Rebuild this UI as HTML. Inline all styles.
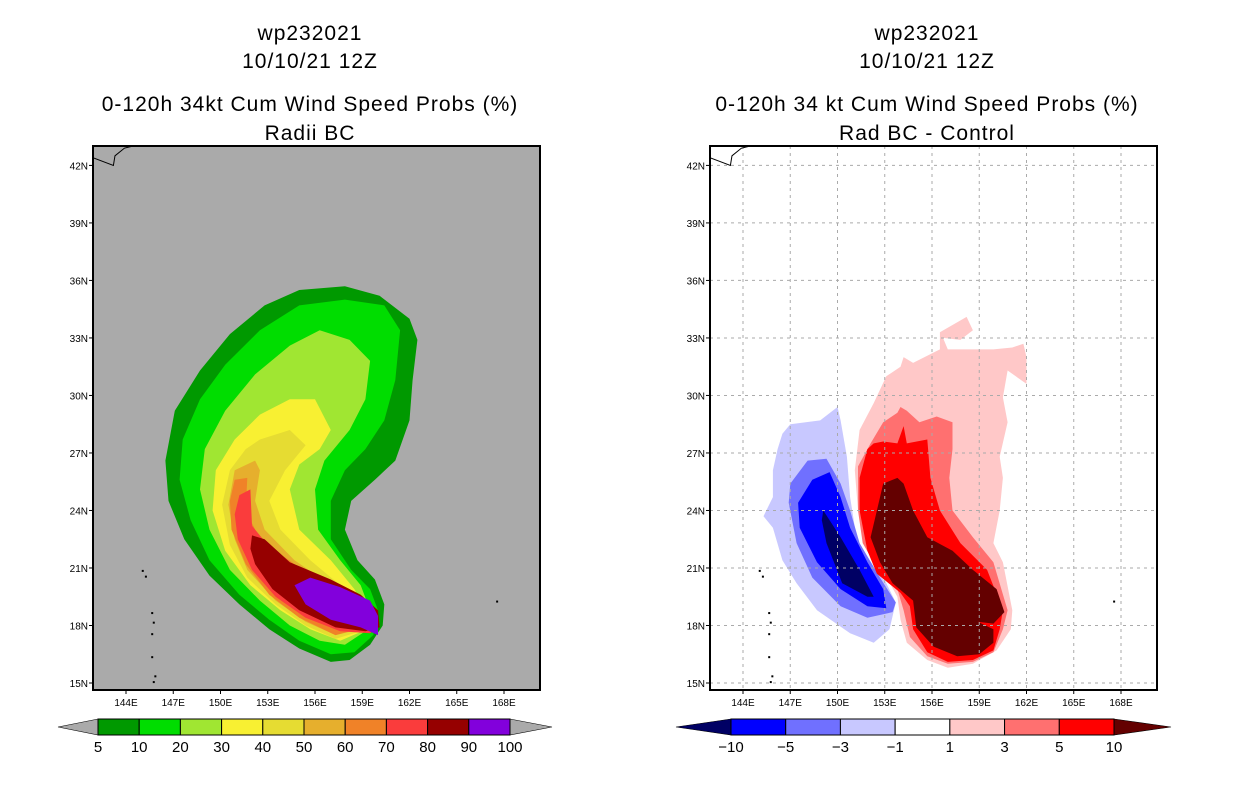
<!DOCTYPE html>
<html><head><meta charset="utf-8">
<style>
body{margin:0;background:#fff;}
svg{display:block;font-family:"Liberation Sans","DejaVu Sans",sans-serif;}
</style></head>
<body>
<svg id="c" width="1236" height="800" viewBox="0 0 1236 800"></svg>
<script>
// ---------- data ----------
const latTicks=[42,39,36,33,30,27,24,21,18,15];
const lonTicks=[144,147,150,153,156,159,162,165,168];
const probLevels=[5,10,20,30,40,50,60,70,80,90,100];
const probColors=["#009900","#00dd00","#a0e632","#f8f032","#e6dc32","#e6af2d","#f08228","#fa3c3c","#960000","#8200dc"];
const diffLevels=[-10,-5,-3,-1,1,3,5,10];
const diffColors=["#0000ff","#7070ff","#c8c8ff","#ffffff","#ffc8c8","#ff7070","#ff0000"];
const diffLow="#000064", diffHigh="#640000";
// probability contours (lon,lat)
const prob5=[[157.9,35.7],[160.1,35.2],[162.0,34.0],[162.5,32.9],[162.2,30.8],[162.0,28.7],[161.1,26.6],[159.8,25.6],[158.3,24.5],[157.9,23.0],[158.7,21.4],[159.8,20.4],[160.4,19.1],[160.3,18.0],[159.5,17.0],[158.2,16.2],[157.0,16.1],[155.0,16.8],[153.1,17.8],[151.2,19.1],[149.3,20.6],[147.7,22.5],[146.7,24.5],[146.5,26.6],[147.1,29.2],[148.7,31.3],[150.6,33.2],[152.8,34.7],[155.0,35.5]];
const prob10=[[157.9,35.0],[160.4,34.7],[161.4,33.4],[161.1,30.8],[160.4,28.7],[159.2,27.2],[157.9,26.1],[157.0,24.5],[157.0,22.5],[158.3,20.9],[159.5,19.9],[160.0,18.8],[159.7,17.5],[158.5,16.6],[157.0,16.5],[155.0,17.2],[153.1,18.3],[151.2,19.6],[149.3,21.4],[148.1,23.5],[147.4,25.6],[147.6,27.7],[148.7,29.8],[150.3,31.6],[152.5,33.4],[155.0,34.7]];
const prob20=[[156.3,33.4],[158.2,32.9],[159.5,31.8],[159.2,29.8],[158.2,28.2],[156.6,26.6],[156.0,25.1],[156.2,23.0],[157.6,21.4],[158.9,20.1],[159.5,18.8],[159.2,17.7],[157.9,17.0],[156.3,17.2],[154.4,18.0],[152.5,19.3],[150.6,20.9],[149.3,23.0],[148.7,25.1],[149.0,27.2],[150.3,29.2],[152.2,31.1],[154.4,32.6]];
const prob30=[[154.4,29.8],[156.0,29.8],[157.0,28.2],[156.3,27.2],[155.0,26.4],[154.4,25.1],[155.0,23.0],[157.0,21.4],[158.5,19.9],[159.4,18.5],[159.0,17.7],[157.6,17.2],[155.7,17.8],[153.8,18.8],[151.9,20.1],[150.3,21.9],[149.5,24.0],[149.7,26.1],[150.9,27.7],[152.5,29.0]];
const prob40=[[152.5,27.7],[154.4,28.2],[155.4,27.4],[154.1,26.1],[153.1,24.5],[153.8,23.0],[155.7,21.4],[157.9,19.9],[159.2,18.5],[158.9,17.7],[157.3,17.3],[155.4,18.0],[153.5,19.1],[151.7,20.5],[150.6,22.2],[150.1,24.3],[150.6,26.1],[151.6,27.2]];
const prob50=[[150.9,26.1],[152.2,26.6],[152.5,26.1],[152.2,24.5],[152.8,23.0],[154.7,21.4],[157.0,20.1],[158.9,18.8],[158.9,17.8],[157.3,17.5],[155.4,18.2],[153.5,19.3],[151.7,20.9],[150.9,22.5],[150.5,24.3]];
const prob60=[[150.9,25.6],[151.7,25.7],[151.6,24.0],[152.5,22.5],[154.7,21.2],[157.0,20.0],[158.7,18.7],[158.7,17.8],[157.3,17.5],[155.0,18.4],[153.1,19.6],[151.6,21.2],[150.7,23.0],[150.6,24.5]];
const prob70=[[151.2,24.8],[151.9,25.1],[152.0,23.2],[153.5,21.7],[155.7,20.6],[157.9,19.6],[159.6,18.7],[160.1,18.0],[159.5,17.6],[157.6,17.7],[155.4,18.4],[153.5,19.5],[152.0,20.9],[151.1,22.5],[150.9,23.8]];
const prob80=[[152.0,22.7],[152.8,22.5],[154.4,21.3],[157.0,20.4],[158.9,19.6],[160.0,18.8],[160.1,17.9],[159.2,17.7],[157.3,17.9],[155.0,18.8],[153.3,19.9],[152.2,21.2],[151.9,22.0]];
const prob90=[[154.7,20.1],[155.7,20.5],[157.6,20.0],[159.5,19.3],[160.0,18.5],[160.0,17.5],[158.9,17.9],[157.0,18.3],[155.4,19.1]];
// difference contours (lon,lat)
const diffNeg1=[[150.0,29.4],[148.9,28.7],[147.0,28.5],[146.5,28.0],[146.2,27.2],[145.9,26.1],[145.9,24.7],[145.3,23.7],[145.9,23.1],[146.5,21.4],[147.4,20.2],[148.7,18.8],[150.8,17.6],[152.3,17.1],[153.3,17.8],[153.7,19.2],[153.1,20.2],[151.9,21.4],[151.2,22.6],[150.8,24.7],[150.6,26.8],[150.2,28.7]];
const diffNeg3=[[148.1,26.6],[149.3,26.7],[150.2,25.4],[150.8,24.0],[151.4,22.3],[152.7,20.5],[153.7,19.2],[153.5,18.7],[151.9,18.4],[150.2,19.0],[148.4,20.5],[147.4,22.3],[146.9,24.4],[147.0,25.4]];
const diffNeg5=[[148.4,25.6],[149.5,26.0],[150.2,24.7],[150.8,23.1],[151.9,21.3],[152.9,19.9],[153.1,18.9],[151.9,19.0],[150.2,19.9],[148.7,21.3],[147.6,23.1],[147.5,24.4]];
const diffNeg10=[[149.1,24.0],[150.2,22.6],[151.4,20.9],[152.3,19.5],[151.9,19.5],[150.3,20.2],[149.3,22.3],[149.0,23.5]];
const diffPos1=[[158.2,34.1],[158.6,33.4],[157.8,32.9],[156.7,33.0],[157.0,32.4],[159.9,32.4],[161.1,32.5],[161.8,32.7],[162.0,32.0],[162.0,30.6],[160.8,31.3],[160.5,29.9],[160.8,28.6],[160.3,26.8],[160.5,25.7],[160.3,24.0],[159.9,22.3],[160.5,21.3],[161.1,18.8],[161.0,17.8],[160.1,16.7],[158.6,16.0],[157.0,15.8],[155.7,16.2],[154.4,17.1],[154.0,18.3],[153.8,19.5],[152.7,21.1],[151.9,21.9],[151.3,24.0],[151.1,26.1],[151.4,28.2],[152.3,29.6],[153.1,31.0],[154.0,31.5],[154.2,32.0],[154.8,31.7],[156.5,32.4],[156.5,33.3]];
const diffPos3=[[154.0,29.4],[154.4,29.2],[155.2,28.6],[156.3,28.9],[157.3,28.6],[157.3,27.2],[157.1,25.7],[157.3,24.0],[158.6,22.6],[159.9,21.3],[160.8,18.8],[160.5,17.8],[159.9,16.6],[158.6,16.1],[157.0,16.0],[155.7,16.4],[154.6,17.4],[154.2,18.8],[153.8,19.9],[152.3,21.3],[151.6,22.3],[151.3,24.0],[151.3,26.3],[152.1,27.5],[152.9,28.6],[153.8,29.1]];
const diffPos5=[[152.3,27.5],[152.9,27.6],[153.8,27.5],[154.2,28.4],[154.4,27.5],[155.7,27.7],[155.9,25.7],[156.5,24.0],[157.8,22.3],[159.5,20.9],[160.5,18.8],[160.3,17.8],[159.9,16.7],[158.6,16.2],[157.0,16.1],[155.7,16.6],[154.8,17.8],[154.6,19.0],[154.0,19.7],[152.5,20.7],[151.9,21.9],[151.4,24.0],[151.4,25.7],[151.9,27.2]];
const diffPos10=[[153.8,25.7],[154.2,25.4],[154.8,24.0],[155.7,22.6],[157.3,21.9],[158.6,20.9],[160.1,19.9],[160.6,18.7],[159.9,18.1],[158.9,18.2],[159.9,17.8],[159.9,17.1],[159.0,16.5],[157.6,16.4],[156.1,16.9],[155.0,17.9],[154.8,19.3],[153.5,20.2],[152.7,21.3],[152.1,22.6],[152.5,24.0],[152.9,25.4]];
const coast=[[141.9,42.4],[143.2,42.0],[143.3,42.5],[143.9,42.9],[144.4,43.0]];
const islands=[[145.0,20.9],[145.2,20.6],[145.6,18.7],[145.7,18.2],[145.6,17.6],[145.6,16.4],[145.8,15.4],[145.7,15.1],[167.5,19.3]];

// ---------- drawing ----------
const svg=document.getElementById('c');
const NS="http://www.w3.org/2000/svg";
function mk(tag,attrs,parent){const e=document.createElementNS(NS,tag);for(const k in attrs)e.setAttribute(k,attrs[k]);(parent||svg).appendChild(e);return e;}
function txt(s,x,y,size,anchor,parent){const t=mk('text',{x:x,y:y,'font-size':size,'text-anchor':anchor||'middle',fill:'#000'},parent);t.textContent=s;return t;}

function panel(x0,y0,x1,y1,lon0,bg,grid,name){
  const X=lon=>lon0+(lon-144)*15.75;
  const Y=lat=>683-(lat-15)*19.17;
  const g=mk('g',{});
  
  
  mk('rect',{x:x0,y:y0,width:x1-x0,height:y1-y0,fill:bg},g);
  const clipId='clip'+name;
  const cp=mk('clipPath',{id:clipId},g);
  mk('rect',{x:x0,y:y0,width:x1-x0,height:y1-y0},cp);
  const inner=mk('g',{'clip-path':'url(#'+clipId+')'},g);
  const poly=(pts,fill,nm)=>{const p=mk('polygon',{points:pts.map(q=>X(q[0]).toFixed(1)+','+Y(q[1]).toFixed(1)).join(' '),fill:fill},inner);
    
    return p;};
  const ctx={X,Y,poly,inner,g};
  return ctx;
}
function frame(ctx,x0,y0,x1,y1,grid){
  const {X,Y,g,inner}=ctx;
  if(grid){
    lonTicks.forEach(l=>mk('line',{x1:X(l),x2:X(l),y1:y0,y2:y1,stroke:'#aaa','stroke-width':1,'stroke-dasharray':'3,4'},inner));
    latTicks.forEach(l=>mk('line',{x1:x0,x2:x1,y1:Y(l),y2:Y(l),stroke:'#aaa','stroke-width':1,'stroke-dasharray':'3,4'},inner));
  }
  mk('polyline',{points:coast.map(q=>X(q[0])+','+Y(q[1])).join(' '),fill:'none',stroke:'#000','stroke-width':1},inner);
  islands.forEach(q=>mk('rect',{x:X(q[0]),y:Y(q[1]),width:2,height:2,fill:'#000'},inner));
  mk('rect',{x:x0,y:y0,width:x1-x0,height:y1-y0,fill:'none',stroke:'#000','stroke-width':2},g);
  latTicks.forEach(l=>{mk('line',{x1:x0-4,x2:x0,y1:Y(l),y2:Y(l),stroke:'#000'},g);
    const t=txt(l+'N',x0-5,Y(l)+4,10,'end',g);
    
    });
  lonTicks.forEach(l=>{mk('line',{x1:X(l),x2:X(l),y1:y1,y2:y1+4,stroke:'#000'},g);
    const t=txt(l+'E',X(l),y1+16,10,'middle',g);
    
    });
}

// left panel
const L=panel(93,146,540,690,126,'#aaaaaa',false,'left-map');
[prob5,prob10,prob20,prob30,prob40,prob50,prob60,prob70,prob80,prob90].forEach((p,i)=>L.poly(p,probColors[i],'prob-contour-'+probLevels[i]));
frame(L,93,146,540,690,false);

// right panel
const R=panel(710,146,1157,690,743,'#ffffff',true,'right-map');
R.poly(diffNeg1,diffColors[2],'diff-contour-neg1');
R.poly(diffNeg3,diffColors[1],'diff-contour-neg3');
R.poly(diffNeg5,diffColors[0],'diff-contour-neg5');
R.poly(diffNeg10,diffLow,'diff-contour-neg10');
R.poly(diffPos1,diffColors[4],'diff-contour-pos1');
R.poly(diffPos3,diffColors[5],'diff-contour-pos3');
R.poly(diffPos5,diffColors[6],'diff-contour-pos5');
R.poly(diffPos10,diffHigh,'diff-contour-pos10');
frame(R,710,146,1157,690,true);

// titles
function titles(cx,lines,nm){
  const ys=[40,68,111,140];
  lines.forEach((s,i)=>{const t=txt(s,cx,ys[i],21,'middle');
    t.setAttribute('letter-spacing','1');
    
    });
}
titles(310,['wp232021','10/10/21 12Z','0-120h 34kt Cum Wind Speed Probs (%)','Radii BC'],'left');
titles(927,['wp232021','10/10/21 12Z','0-120h 34 kt Cum Wind Speed Probs (%)','Rad BC - Control'],'right');

// colorbars
function colorbar(x0,x1,tipL,tipR,cols,lowCol,highCol,labels,nm){
  const g=mk('g',{});
  
  
  const y0=719,y1=735,ym=727,w=(x1-x0)/cols.length;
  mk('polygon',{points:`${x0},${y0} ${tipL},${ym} ${x0},${y1}`,fill:lowCol,stroke:'#000','stroke-width':0.6},g);
  mk('polygon',{points:`${x1},${y0} ${tipR},${ym} ${x1},${y1}`,fill:highCol,stroke:'#000','stroke-width':0.6},g);
  cols.forEach((c,i)=>mk('rect',{x:x0+i*w,y:y0,width:w,height:y1-y0,fill:c,stroke:'#000','stroke-width':1},g));
  labels.forEach((l,i)=>{const s=String(l).replace('-','\u2212');txt(s,x0+i*w,752,15,'middle',g);});
}
colorbar(98,510,58,552,probColors,'#aaaaaa','#aaaaaa',probLevels,'prob-colorbar');
colorbar(731,1114,676,1171,diffColors,diffLow,diffHigh,diffLevels,'diff-colorbar');
</script>
</body></html>
